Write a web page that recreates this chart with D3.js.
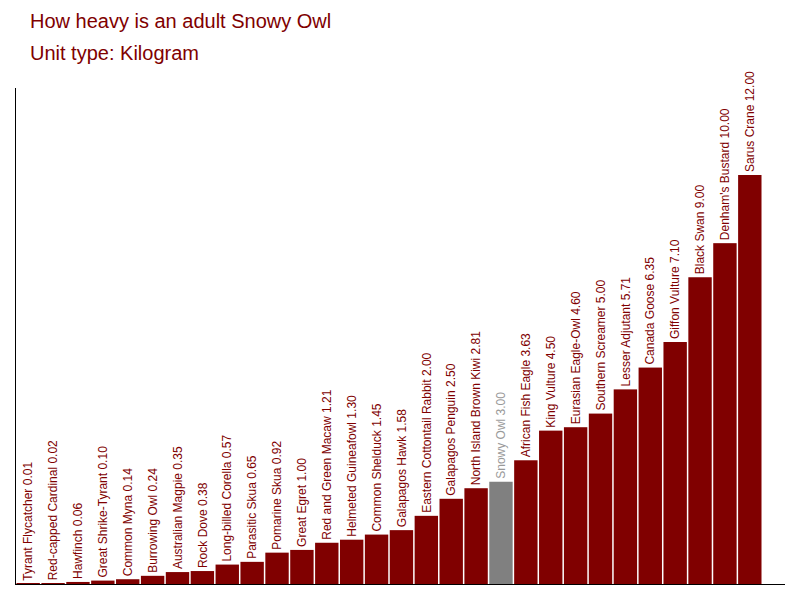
<!DOCTYPE html>
<html><head><meta charset="utf-8">
<script src="https://cdn.jsdelivr.net/npm/d3@7"></script>
<style>body{margin:0;background:#fff}text{font-family:"Liberation Sans",Arial,sans-serif}</style>
</head><body>
<svg id="c" width="800" height="600"></svg>
<script>
const birds = ["Tyrant Flycatcher","Red-capped Cardinal","Hawfinch","Great Shrike-Tyrant","Common Myna","Burrowing Owl","Australian Magpie","Rock Dove","Long-billed Corella","Parasitic Skua","Pomarine Skua","Great Egret","Red and Green Macaw","Helmeted Guineafowl","Common Shelduck","Galapagos Hawk","Eastern Cottontail Rabbit","Galapagos Penguin","North Island Brown Kiwi","Snowy Owl","African Fish Eagle","King Vulture","Eurasian Eagle-Owl","Southern Screamer","Lesser Adjutant","Canada Goose","Giffon Vulture","Black Swan","Denham's Bustard","Sarus Crane"];
const weights = [0.01,0.02,0.06,0.10,0.14,0.24,0.35,0.38,0.57,0.65,0.92,1.00,1.21,1.30,1.45,1.58,2.00,2.50,2.81,3.00,3.63,4.50,4.60,5.00,5.71,6.35,7.10,9.00,10.00,12.00];
const highlight = "Snowy Owl";
const svg = d3.select("#c");
const x = d3.scaleBand().domain(birds).range([16, 762]).paddingInner(0.06).paddingOuter(0.02);
const y = d3.scaleLinear().domain([0, 12]).range([584, 175]);
const data = birds.map((b,i)=>({b, w: weights[i]}));
svg.selectAll("rect").data(data).join("rect")
  .attr("x", d=>x(d.b)).attr("width", x.bandwidth())
  .attr("y", d=>Math.min(y(d.w), 584-1)).attr("height", d=>Math.max(584-y(d.w),1))
  .attr("fill", d=>d.b===highlight?"#808080":"#800000");
svg.selectAll("text.l").data(data).join("text").attr("class","l")
  .attr("transform", d=>`translate(${x(d.b)+x.bandwidth()/2},${y(d.w)-3}) rotate(-90)`)
  .attr("dy","0.35em").attr("font-size",12)
  .attr("fill", d=>d.b===highlight?"#999999":"#800000")
  .text(d=>`${d.b} ${d.w.toFixed(2)}`);
svg.append("line").attr("x1",15.5).attr("x2",15.5).attr("y1",88).attr("y2",584.5).attr("stroke","#000");
svg.append("line").attr("x1",15).attr("x2",785).attr("y1",584.5).attr("y2",584.5).attr("stroke","#000");
svg.append("text").attr("x",30).attr("y",28).attr("font-size",20).attr("fill","#800000").text("How heavy is an adult Snowy Owl");
svg.append("text").attr("x",30).attr("y",60).attr("font-size",20).attr("fill","#800000").text("Unit type: Kilogram");
</script>
</body></html>
